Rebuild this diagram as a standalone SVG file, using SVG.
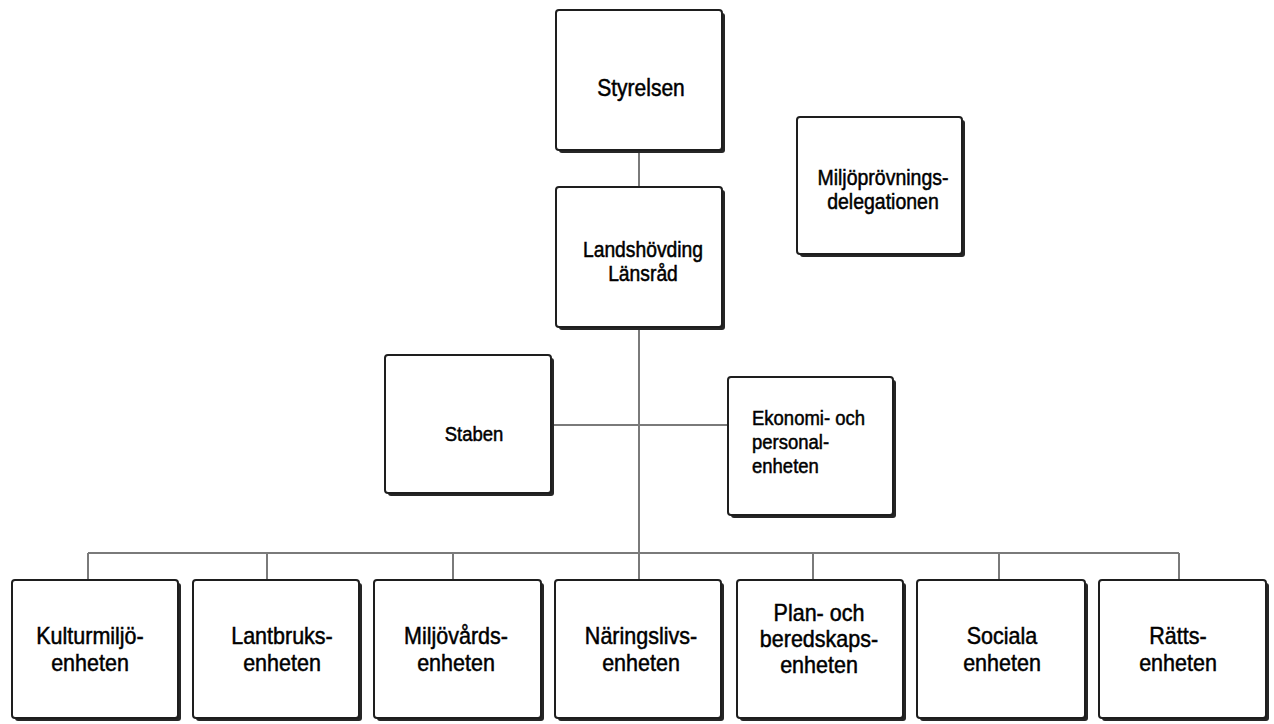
<svg xmlns="http://www.w3.org/2000/svg" width="1274" height="724" viewBox="0 0 1274 724">
<style>
.sh{fill:#262626}
.bx{fill:#ffffff;stroke:#1e1e1e;stroke-width:2}
.ln{stroke:#7a7a7a;stroke-width:2;fill:none}
text{font-family:"Liberation Sans",Arial,sans-serif;fill:#000;stroke:#000;stroke-width:0.45px;font-size:21.5px;transform-box:fill-box;transform-origin:center;transform:scaleY(1.1)}
.c{text-anchor:middle}
</style>
<rect width="1274" height="724" fill="#ffffff"/>
<g id="connectors">
<line class="ln" x1="639" y1="150" x2="639" y2="187"/>
<line class="ln" x1="639" y1="330" x2="639" y2="580"/>
<line class="ln" x1="553" y1="425" x2="728" y2="425"/>
<line class="ln" x1="88" y1="553" x2="1179" y2="553"/>
<line class="ln" x1="88" y1="553" x2="88" y2="580"/>
<line class="ln" x1="267" y1="553" x2="267" y2="580"/>
<line class="ln" x1="453" y1="553" x2="453" y2="580"/>
<line class="ln" x1="813" y1="553" x2="813" y2="580"/>
<line class="ln" x1="999" y1="553" x2="999" y2="580"/>
<line class="ln" x1="1179" y1="553" x2="1179" y2="580"/>
</g>
<g id="styrelsen">
<rect class="sh" x="559" y="13" width="166" height="140" rx="3"/>
<rect class="bx" x="556" y="10" width="166" height="140" rx="3"/>
<text class="c" x="641" y="95" style="font-size:21px">Styrelsen</text>
</g>
<g id="landshovding">
<rect class="sh" x="559" y="190" width="166" height="140" rx="3"/>
<rect class="bx" x="556" y="187" width="166" height="140" rx="3"/>
<text class="c" x="643" y="256" style="font-size:19.3px">Landshövding</text>
<text class="c" x="643" y="280" style="font-size:19.3px">Länsråd</text>
</g>
<g id="miljoprovning">
<rect class="sh" x="800" y="120" width="165" height="137" rx="3"/>
<rect class="bx" x="797" y="117" width="165" height="137" rx="3"/>
<text class="c" x="883" y="184" style="font-size:19.5px">Miljöprövnings-</text>
<text class="c" x="883" y="208" style="font-size:19.5px">delegationen</text>
</g>
<g id="staben">
<rect class="sh" x="388" y="358" width="166" height="138" rx="3"/>
<rect class="bx" x="385" y="355" width="166" height="138" rx="3"/>
<text class="c" x="474" y="440" style="font-size:18.5px">Staben</text>
</g>
<g id="ekonomi">
<rect class="sh" x="731" y="380" width="165" height="138" rx="3"/>
<rect class="bx" x="728" y="377" width="165" height="138" rx="3"/>
<text x="752" y="424" style="font-size:18.5px">Ekonomi- och</text>
<text x="752" y="448" style="font-size:18.5px">personal-</text>
<text x="752" y="472" style="font-size:18.5px">enheten</text>
</g>
<g id="kulturmiljo">
<rect class="sh" x="15" y="583" width="166" height="138" rx="3"/>
<rect class="bx" x="12" y="580" width="166" height="138" rx="3"/>
<text class="c" x="90" y="643">Kulturmiljö-</text>
<text class="c" x="90" y="670">enheten</text>
</g>
<g id="lantbruks">
<rect class="sh" x="196" y="583" width="166" height="138" rx="3"/>
<rect class="bx" x="193" y="580" width="166" height="138" rx="3"/>
<text class="c" x="282" y="643">Lantbruks-</text>
<text class="c" x="282" y="670">enheten</text>
</g>
<g id="miljovards">
<rect class="sh" x="377" y="583" width="167" height="138" rx="3"/>
<rect class="bx" x="374" y="580" width="167" height="138" rx="3"/>
<text class="c" x="456" y="643">Miljövårds-</text>
<text class="c" x="456" y="670">enheten</text>
</g>
<g id="naringslivs">
<rect class="sh" x="558" y="583" width="166" height="138" rx="3"/>
<rect class="bx" x="555" y="580" width="166" height="138" rx="3"/>
<text class="c" x="641" y="643">Näringslivs-</text>
<text class="c" x="641" y="670">enheten</text>
</g>
<g id="plan">
<rect class="sh" x="740" y="583" width="166" height="138" rx="3"/>
<rect class="bx" x="737" y="580" width="166" height="138" rx="3"/>
<text class="c" x="819" y="620">Plan- och</text>
<text class="c" x="819" y="646">beredskaps-</text>
<text class="c" x="819" y="672">enheten</text>
</g>
<g id="sociala">
<rect class="sh" x="920" y="583" width="168" height="138" rx="3"/>
<rect class="bx" x="917" y="580" width="168" height="138" rx="3"/>
<text class="c" x="1002" y="643">Sociala</text>
<text class="c" x="1002" y="670">enheten</text>
</g>
<g id="ratts">
<rect class="sh" x="1102" y="583" width="167" height="138" rx="3"/>
<rect class="bx" x="1099" y="580" width="167" height="138" rx="3"/>
<text class="c" x="1178" y="643">Rätts-</text>
<text class="c" x="1178" y="670">enheten</text>
</g>
</svg>
